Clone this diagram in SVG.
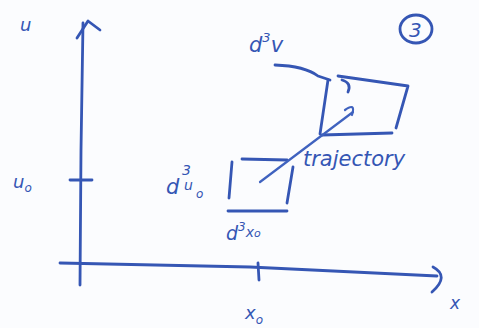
<svg xmlns="http://www.w3.org/2000/svg" width="479" height="328" viewBox="0 0 479 328">
<style>
.ink{fill:none;stroke:#3556b4;stroke-width:2.8;stroke-linecap:round;stroke-linejoin:round}
.thin{fill:none;stroke:#3f62bf;stroke-width:2.2;stroke-linecap:round;stroke-linejoin:round}
.t{fill:#3556b4;font-family:"DejaVu Sans",sans-serif;font-style:italic}
</style>
<rect width="479" height="328" fill="#fbfcfe"/>
<g id="u-axis">
<path class="ink" d="M80 285 L81 150 L83 23"/>
<path class="ink" d="M77 38 L88 21 L100 30"/>
<text class="t" x="20" y="31" font-size="18">u</text>
</g>
<g id="x-axis">
<path class="ink" d="M60 263 L250 267 L437 276"/>
<path class="ink" d="M433 267 Q450 276 432 292"/>
<text class="t" x="450" y="309" font-size="17">x</text>
</g>
<g id="u0-tick">
<path class="ink" d="M70 180 L92 180"/>
<text class="t" x="13" y="188" font-size="18">u<tspan font-size="12" dy="4">o</tspan></text>
</g>
<g id="x0-tick">
<path class="ink" d="M258 263 L259 280"/>
<text class="t" x="245" y="319" font-size="18">x<tspan font-size="12" dy="5">o</tspan></text>
</g>
<g id="label-3">
<ellipse class="ink" cx="416" cy="29" rx="16" ry="14"/>
<text class="t" x="409" y="37" font-size="20" font-style="normal">3</text>
</g>
<g id="box-d3v">
<path class="ink" d="M275 65 Q305 66 318 76 L330 80"/>
<path class="ink" d="M328 80 L320 134"/>
<path class="ink" d="M338 76 L408 86 L396 128"/>
<path class="ink" d="M322 135 L392 133"/>
<path class="ink" d="M342 80 Q352 83 348 92"/>
<text class="t" x="249" y="52" font-size="21">d<tspan font-size="13" dy="-10">3</tspan><tspan dy="10">v</tspan></text>
</g>
<g id="box-d3x0">
<path class="ink" d="M242 159 L287 160"/>
<path class="ink" d="M232 162 L229 198"/>
<path class="ink" d="M293 167 L287 203"/>
<path class="ink" d="M228 211 L287 211"/>
<text class="t" x="166" y="194" font-size="21">d</text>
<text class="t" x="182" y="175" font-size="14">3</text>
<text class="t" x="184" y="190" font-size="14">u</text>
<text class="t" x="196" y="198" font-size="12">o</text>
<text class="t" x="226" y="240" font-size="19">d<tspan font-size="12" dy="-9">3</tspan><tspan font-size="14" dy="6">x</tspan><tspan font-size="11" dy="0">o</tspan></text>
</g>
<g id="connectors">
<path class="thin" d="M260 182 L353 112"/>
<path class="thin" d="M345 110 Q356 102 352 115"/>
</g>
<g id="trajectory">
<text class="t" x="303" y="166" font-size="21">trajectory</text>
</g>
</svg>
